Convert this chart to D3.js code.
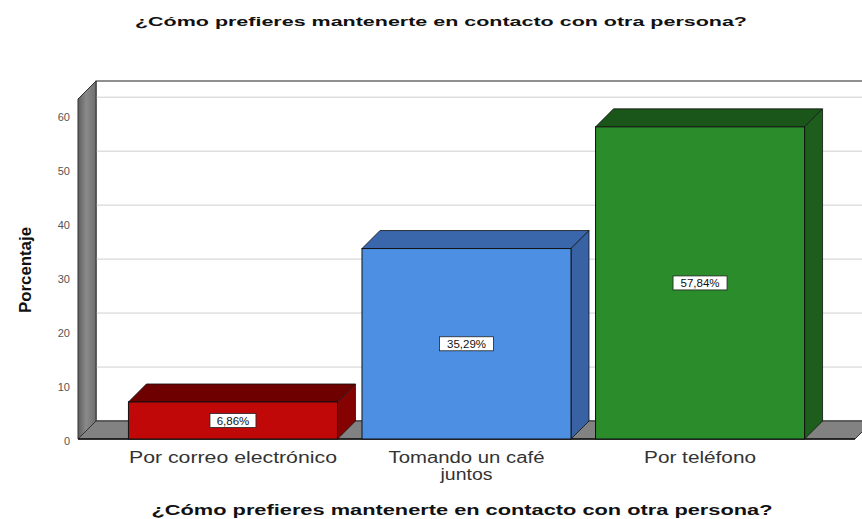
<!DOCTYPE html>
<html>
<head>
<meta charset="utf-8">
<script src="https://cdn.jsdelivr.net/npm/d3@7"></script>
<style>
  body { margin: 0; background: #fff; }
  text { font-family: "Liberation Sans", Arial, sans-serif; }
</style>
</head>
<body>
<div class="canvas"></div>
<script>
const categories = ["Por correo electrónico", "Tomando un café juntos", "Por teléfono"];
const values = [6.86, 35.29, 57.84];
const valueLabels = ["6,86%", "35,29%", "57,84%"];
const yTicks = [0, 10, 20, 30, 40, 50, 60];
const title = "¿Cómo prefieres mantenerte en contacto con otra persona?";
const yTitle = "Porcentaje";

// colours per bar: front, top, side
const faceColors = [
  { front: "#c00808", top: "#6e0000", side: "#850202" },
  { front: "#4d8fe3", top: "#3a66ab", side: "#3862a3" },
  { front: "#2a8c2a", top: "#1a561a", side: "#1d5e1d" },
];

const width = 862, height = 519;
const depth = 18;

const svg = d3.select(".canvas").append("svg")
  .attr("width", width).attr("height", height);

const x = d3.scaleBand().domain(categories).range([78, 855])
  .paddingInner(0.105).paddingOuter(0.216);
const y = d3.scaleLinear().domain([0, 63]).range([439, 99]);

const x0 = x.range()[0], x1 = x.range()[1];
const yb = y(0), yt = y(63);

// back wall
svg.append("rect")
  .attr("x", x0 + depth).attr("y", yt - depth)
  .attr("width", x1 - x0).attr("height", yb - yt)
  .attr("fill", "#fff").attr("stroke", "#222").attr("stroke-width", 1);

// grid lines on the back wall
svg.append("g").selectAll("line")
  .data(yTicks.filter(d => d > 0))
  .join("line")
  .attr("x1", x0 + depth).attr("x2", x1 + depth)
  .attr("y1", d => y(d) - depth).attr("y2", d => y(d) - depth)
  .attr("stroke", "#cfcfcf").attr("stroke-width", 1);

// left side wall
const sideGrad = svg.append("defs").append("linearGradient").attr("id", "sideGrad")
  .attr("x1", 0).attr("x2", 1).attr("y1", 0).attr("y2", 0);
sideGrad.append("stop").attr("offset", 0).attr("stop-color", "#5e5e5e");
sideGrad.append("stop").attr("offset", 0.45).attr("stop-color", "#8a8a8a");
sideGrad.append("stop").attr("offset", 1).attr("stop-color", "#6e6e6e");

svg.append("polygon")
  .attr("points", [[x0, yb], [x0, yt], [x0 + depth, yt - depth], [x0 + depth, yb - depth]].join(" "))
  .attr("fill", "url(#sideGrad)").attr("stroke", "#333").attr("stroke-width", 1);

// floor
svg.append("polygon")
  .attr("points", [[x0, yb], [x1, yb], [x1 + depth, yb - depth], [x0 + depth, yb - depth]].join(" "))
  .attr("fill", "#828282").attr("stroke", "#333").attr("stroke-width", 1);
svg.append("line")
  .attr("x1", x0).attr("x2", x1).attr("y1", yb).attr("y2", yb)
  .attr("stroke", "#111").attr("stroke-width", 1.5);

// bars
const bars = svg.append("g").selectAll("g")
  .data(categories.map((c, i) => ({ c, v: values[i], lab: valueLabels[i], col: faceColors[i] })))
  .join("g");

bars.append("polygon")
  .attr("points", d => {
    const bx = x(d.c), bw = x.bandwidth(), ty = y(d.v);
    return [[bx, ty], [bx + depth, ty - depth], [bx + bw + depth, ty - depth], [bx + bw, ty]].join(" ");
  })
  .attr("fill", d => d.col.top).attr("stroke", "#111").attr("stroke-width", 0.8);

bars.append("polygon")
  .attr("points", d => {
    const bx = x(d.c), bw = x.bandwidth(), ty = y(d.v);
    return [[bx + bw, ty], [bx + bw + depth, ty - depth], [bx + bw + depth, yb - depth], [bx + bw, yb]].join(" ");
  })
  .attr("fill", d => d.col.side).attr("stroke", "#111").attr("stroke-width", 0.8);

bars.append("rect")
  .attr("x", d => x(d.c)).attr("y", d => y(d.v))
  .attr("width", x.bandwidth()).attr("height", d => yb - y(d.v))
  .attr("fill", d => d.col.front).attr("stroke", "#111").attr("stroke-width", 1);

// value labels
const labs = bars.append("g")
  .attr("transform", d => `translate(${x(d.c) + x.bandwidth() / 2},${(y(d.v) + yb) / 2})`);
labs.append("rect")
  .attr("x", d => -d.lab.length * 4 - 3).attr("y", -7)
  .attr("width", d => d.lab.length * 8 + 6).attr("height", 14)
  .attr("fill", "#fff").attr("stroke", "#222").attr("stroke-width", 0.8);
labs.append("text")
  .attr("text-anchor", "middle").attr("dy", "0.35em")
  .attr("font-size", 11.5).attr("fill", "#111")
  .text(d => d.lab);

// y tick labels
svg.append("g").selectAll("text")
  .data(yTicks)
  .join("text")
  .attr("x", 70).attr("y", d => y(d) + 2)
  .attr("text-anchor", "end").attr("dy", "0.35em")
  .attr("font-size", 11).attr("fill", "#555")
  .text(d => d);

// category labels
const catLines = [["Por correo electrónico"], ["Tomando un café", "juntos"], ["Por teléfono"]];
const catWidths = [[208], [156, 52], [112]];
svg.append("g").selectAll("text")
  .data(categories)
  .join("text")
  .attr("text-anchor", "middle").attr("font-size", 16).attr("fill", "#333")
  .each(function (c, i) {
    const t = d3.select(this);
    catLines[i].forEach((ln, j) => {
      t.append("tspan")
        .attr("x", x(c) + x.bandwidth() / 2)
        .attr("y", 463 + j * 17)
        .attr("textLength", catWidths[i][j]).attr("lengthAdjust", "spacingAndGlyphs")
        .text(ln);
    });
  });

// titles
svg.append("text")
  .attr("x", 441).attr("y", 26).attr("text-anchor", "middle")
  .attr("font-size", 13.5).attr("font-weight", "bold").attr("fill", "#111")
  .attr("textLength", 612).attr("lengthAdjust", "spacingAndGlyphs")
  .text(title);

svg.append("text")
  .attr("x", 462).attr("y", 515).attr("text-anchor", "middle")
  .attr("font-size", 14).attr("font-weight", "bold").attr("fill", "#111")
  .attr("textLength", 621).attr("lengthAdjust", "spacingAndGlyphs")
  .text(title);

svg.append("text")
  .attr("transform", "translate(31,270) rotate(-90)")
  .attr("text-anchor", "middle")
  .attr("font-size", 17).attr("font-weight", "bold").attr("fill", "#111")
  .attr("textLength", 86).attr("lengthAdjust", "spacingAndGlyphs")
  .text(yTitle);
</script>
</body>
</html>
